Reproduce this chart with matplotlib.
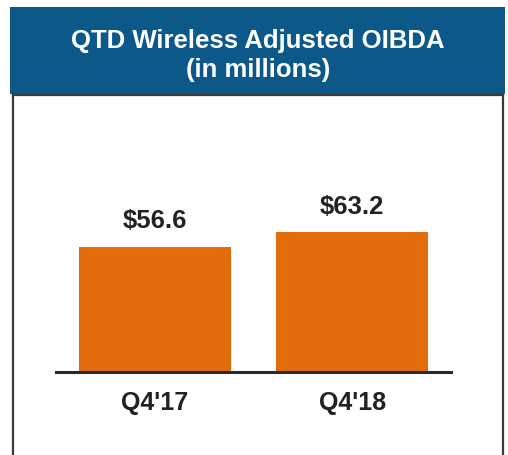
import matplotlib
matplotlib.use("Agg")
import matplotlib.pyplot as plt
from matplotlib.patches import Rectangle
from matplotlib.lines import Line2D

categories = ["Q4'17", "Q4'18"]
values = [56.6, 63.2]
value_labels = ["$56.6", "$63.2"]
title_lines = ["QTD Wireless Adjusted OIBDA", "(in millions)"]

W, H = 508, 455
fig = plt.figure(figsize=(W / 100, H / 100), dpi=100)
fig.patch.set_facecolor("white")
plt.rcParams['font.family'] = ['Liberation Sans', 'DejaVu Sans']

def fx(px):
    return px / W

def fy(py):
    return 1 - py / H

# header band
fig.patches.append(Rectangle((fx(10), fy(94)), fx(505) - fx(10), fy(7) - fy(94),
                             transform=fig.transFigure, facecolor="#0b5889",
                             edgecolor="none", zorder=0))
# box border
border_kw = dict(transform=fig.transFigure, color="#3a3a3a", lw=1.6)
fig.lines.append(Line2D([fx(12.5), fx(12.5)], [fy(94), fy(460)], **border_kw))
fig.lines.append(Line2D([fx(503), fx(503)], [fy(94), fy(460)], **border_kw))
fig.lines.append(Line2D([fx(12.5), fx(503)], [fy(95), fy(95)], **border_kw))

fig.text(fx(258), fy(41), title_lines[0], color="white", fontsize=18.5,
         fontweight="bold", ha="center", va="center")
fig.text(fx(258), fy(70), title_lines[1], color="white", fontsize=18.5,
         fontweight="bold", ha="center", va="center")

ax = fig.add_axes([fx(56), fy(372), fx(451) - fx(56), fy(110) - fy(372)])
ax.set_facecolor("none")
x = list(range(len(categories)))
bars = ax.bar(x, values, width=0.77, color="#e26c0b", zorder=2)
ax.set_xlim(-0.5, 1.5)
ax.set_ylim(0, 118.5)
for xi, v, lab in zip(x, values, value_labels):
    ax.annotate(lab, (xi, v), xytext=(0, 18.5), textcoords="offset points",
                ha="center", va="center", fontsize=18.5, fontweight="bold",
                color="#222222")
ax.set_xticks(x)
ax.set_xticklabels(categories, fontsize=18, fontweight="bold", color="#222222")
ax.tick_params(axis="x", length=0, pad=14)
ax.set_yticks([])
for s in ["top", "left", "right"]:
    ax.spines[s].set_visible(False)
ax.spines["bottom"].set_color("#2a2a2a")
ax.spines["bottom"].set_linewidth(2.2)
ax.spines["bottom"].set_zorder(3)

fig.savefig("out.png", dpi=100)
